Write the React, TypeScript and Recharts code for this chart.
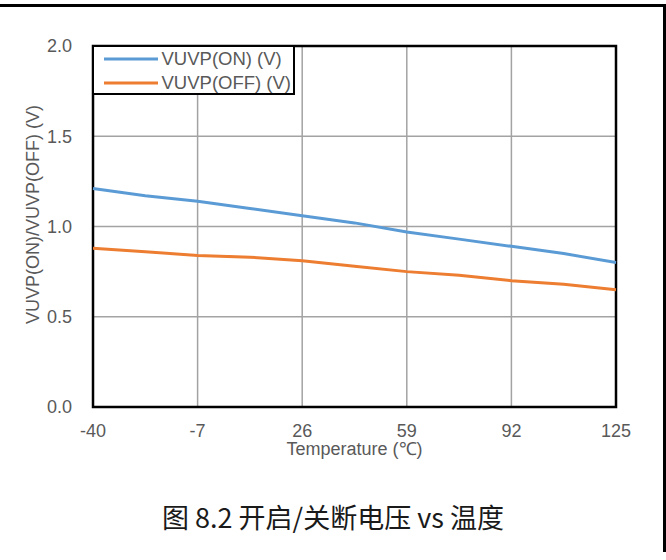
import React from 'react';
import { LineChart, Line, XAxis, YAxis, CartesianGrid, ReferenceArea } from 'recharts';

// Temperature sweep (°C) and measured UVLO thresholds (V)
const temps = [-40, -23.5, -7, 9.5, 26, 42.5, 59, 75.5, 92, 108.5, 125];
const vuvpOn = [1.21, 1.17, 1.14, 1.1, 1.06, 1.02, 0.97, 0.93, 0.89, 0.85, 0.8];
const vuvpOff = [0.88, 0.86, 0.84, 0.83, 0.81, 0.78, 0.75, 0.73, 0.7, 0.68, 0.65];

const xTicks = [-40, -7, 26, 59, 92, 125];
const yTicks = [0, 0.5, 1.0, 1.5, 2.0];

const seriesNames = ['VUVP(ON) (V)', 'VUVP(OFF) (V)'];
const seriesColors = ['#5b9bd5', '#ed7d31'];

const data = temps.map((t, i) => ({ t, on: vuvpOn[i], off: vuvpOff[i] }));

const FONT = '"Liberation Sans", Arial, sans-serif';
const TEXT = '#595959';

export default function App() {
  return (
    <div style={{ position: 'absolute', left: 0, top: 0, width: 666, height: 560, background: '#fff' }}>
      <LineChart
        width={666}
        height={560}
        data={data}
        margin={{ top: 46, right: 50, bottom: 123, left: 0 }}
        style={{ fontFamily: FONT }}
      >
        <CartesianGrid stroke="#a3a3a3" strokeWidth={1.5} />
        <XAxis
          dataKey="t"
          type="number"
          domain={[-40, 125]}
          ticks={xTicks}
          height={30}
          axisLine={false}
          tickLine={false}
          tickSize={6}
          tickMargin={11}
          tick={{ fill: TEXT, fontSize: 18, fontFamily: FONT }}
          label={{ value: 'Temperature (℃)', position: 'bottom', offset: 5, fill: TEXT, fontSize: 18, fontFamily: FONT }}
        />
        <YAxis
          type="number"
          domain={[0, 2]}
          ticks={yTicks}
          width={93}
          axisLine={false}
          tickLine={false}
          tickSize={6}
          tickMargin={15}
          tickFormatter={(v: number) => v.toFixed(1)}
          tick={{ fill: TEXT, fontSize: 18, fontFamily: FONT }}
          label={{ value: 'VUVP(ON)/VUVP(OFF) (V)', angle: -90, position: 'center', dx: -14, dy: -12, fill: TEXT, fontSize: 18, fontFamily: FONT }}
        />
        <Line type="linear" dataKey="on" name={seriesNames[0]} stroke={seriesColors[0]} strokeWidth={3} dot={false} isAnimationActive={false} />
        <Line type="linear" dataKey="off" name={seriesNames[1]} stroke={seriesColors[1]} strokeWidth={3} dot={false} isAnimationActive={false} />
        <ReferenceArea x1={-40} x2={125} y1={0} y2={2} fill="none" fillOpacity={0} stroke="#000" strokeWidth={2.5} />
      </LineChart>

      {/* legend box in the top-left corner of the plot */}
      <div
        style={{
          position: 'absolute',
          left: 92,
          top: 45,
          width: 203,
          height: 50,
          boxSizing: 'border-box',
          border: '2.5px solid #000',
          background: '#fff',
          fontFamily: FONT,
          fontSize: 18.5,
          color: TEXT,
        }}
      >
        {seriesNames.map((name, i) => (
          <div key={name} style={{ position: 'absolute', left: 9.5, top: 1 + i * 24, height: 22, display: 'flex', alignItems: 'center', whiteSpace: 'nowrap' }}>
            <svg width={54} height={4} style={{ display: 'block' }}>
              <line x1={0} y1={2} x2={54} y2={2} stroke={seriesColors[i]} strokeWidth={3} />
            </svg>
            <span style={{ marginLeft: 4 }}>{name}</span>
          </div>
        ))}
      </div>

      {/* figure caption */}
      <div
        style={{
          position: 'absolute',
          left: 0,
          width: 666,
          top: 499,
          textAlign: 'center',
          fontFamily: '"Noto Sans CJK SC", "Noto Sans", sans-serif',
          fontSize: 27,
          color: '#1a1a1a',
          lineHeight: '36px',
        }}
      >
        图 8.2 开启/关断电压 vs 温度
      </div>

      {/* outer frame */}
      <div
        style={{
          position: 'absolute',
          left: -4,
          top: 4,
          width: 670,
          height: 548,
          boxSizing: 'border-box',
          borderTop: '3px solid #000',
          borderRight: '3px solid #000',
          pointerEvents: 'none',
        }}
      />
    </div>
  );
}
